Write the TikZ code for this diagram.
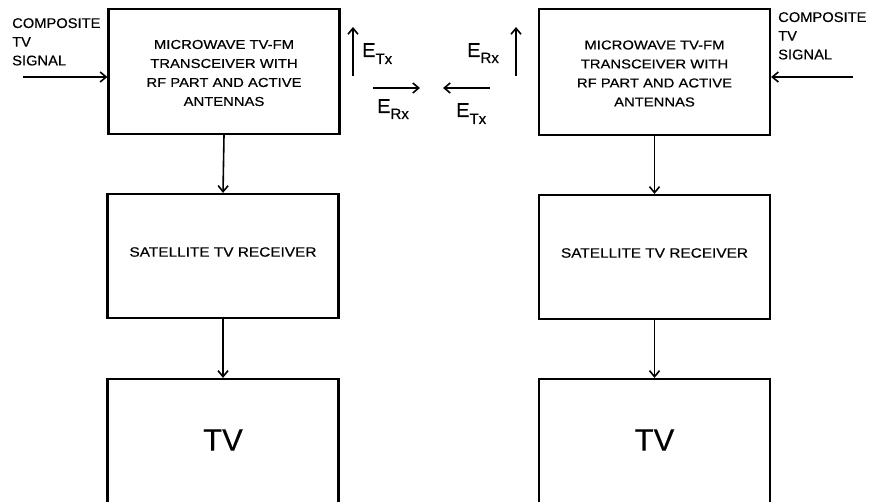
\documentclass[tikz,border=0pt]{standalone}
\usepackage{fontspec}
\setmainfont{Liberation Sans}[FakeBold=0.4]
\newfontfamily\wideA{Liberation Sans}[FakeStretch=1.14,FakeBold=0.4]
\newfontfamily\wideB{Liberation Sans}[FakeStretch=1.05,FakeBold=0.4]
\usetikzlibrary{arrows.meta}
\begin{document}
\begin{tikzpicture}[x=1pt,y=-1pt,
  blk/.style={draw,line width=2.2pt,minimum width=231pt,inner sep=0pt},
  conn/.style={line width=1.6pt,-{Straight Barb[length=6pt,width=10pt,line width=1.6pt]}},
  boxtxt/.style={font=\wideA\fontsize{13}{19}\selectfont,align=center,inner sep=0pt},
  sidetxt/.style={font=\wideB\fontsize{14}{18.7}\selectfont,align=left,inner sep=0pt,anchor=north west},
  elab/.style={inner sep=0pt,anchor=base west}]
\useasboundingbox (0,0) rectangle (873,502);
\clip (0,0) rectangle (873,502);
% left column
\node[blk,minimum height=125pt] (t1) at (224,71.5) {};
\node[boxtxt] (t1txt) at (224,73) {MICROWAVE TV-FM\\ TRANSCEIVER WITH\\RF PART AND ACTIVE\\ANTENNAS};
\node[blk,minimum height=124pt] (s1) at (223,256) {};
\node[boxtxt,font=\wideA\fontsize{13.5}{15}\selectfont] (s1txt) at (223,252) {SATELLITE\ TV\ RECEIVER};
\node[blk,minimum height=170pt] (v1) at (223,464) {};
\node[inner sep=0pt,font=\fontsize{31}{31}\selectfont] (v1txt) at (223,440) {TV};
% right column
\node[blk,minimum height=126pt] (t2) at (654.5,72) {};
\node[boxtxt] (t2txt) at (654.5,73.5) {MICROWAVE TV-FM\\ TRANSCEIVER WITH\\RF PART AND ACTIVE\\ANTENNAS};
\node[blk,minimum height=124pt] (s2) at (654.5,257) {};
\node[boxtxt,font=\wideA\fontsize{13.5}{15}\selectfont] (s2txt) at (654.5,253) {SATELLITE\ TV\ RECEIVER};
\node[blk,minimum height=170pt] (v2) at (654.5,464) {};
\node[inner sep=0pt,font=\fontsize{31}{31}\selectfont] (v2txt) at (654.5,440) {TV};
% composite inputs
\node[sidetxt] (c1) at (12,18) {COMPOSITE\\TV\\SIGNAL};
\node[sidetxt] (c2) at (778,12) {COMPOSITE\\TV\\SIGNAL};
\coordinate (c1in) at (23,77);
\coordinate (c2in) at (853,77);
\draw[conn] (c1in) -- (c1in -| t1.west);
\draw[conn] (c2in) -- (c2in -| t2.east);
% vertical connectors
\draw[conn] (t1.south) -- (s1.north);
\draw[conn] (s1.south) -- (v1.north);
\draw[conn] (t2.south) -- (s2.north);
\draw[conn] (s2.south) -- (v2.north);
% field arrows
\coordinate (a1s) at (353,76); \coordinate (a1e) at (353,27);
\coordinate (a2s) at (373,88); \coordinate (a2e) at (420,88);
\coordinate (a3s) at (490,88); \coordinate (a3e) at (443,88);
\coordinate (a4s) at (516,76); \coordinate (a4e) at (516,27);
\draw[conn] (a1s) -- (a1e);
\draw[conn] (a2s) -- (a2e);
\draw[conn] (a3s) -- (a3e);
\draw[conn] (a4s) -- (a4e);
\node[elab] (etx1) at (362,57) {\fontsize{20}{20}\selectfont E\raisebox{-7pt}{\fontsize{15}{15}\selectfont Tx}};
\node[elab] (erx1) at (377,113) {\fontsize{20}{20}\selectfont E\raisebox{-6pt}{\fontsize{15}{15}\selectfont Rx}};
\node[elab] (etx2) at (456,117) {\fontsize{20}{20}\selectfont E\raisebox{-7pt}{\fontsize{15}{15}\selectfont Tx}};
\node[elab] (erx2) at (467,57) {\fontsize{20}{20}\selectfont E\raisebox{-6pt}{\fontsize{15}{15}\selectfont Rx}};
\end{tikzpicture}
\end{document}
